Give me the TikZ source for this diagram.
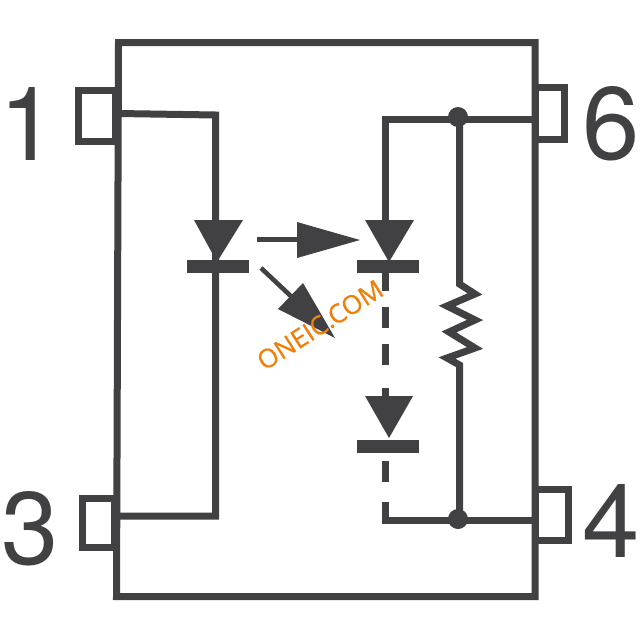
\documentclass[tikz,border=0pt]{standalone}
\usepackage{fontspec}
\setmainfont{TeX Gyre Heros}
\newfontfamily\wmfont[FakeBold=0.6]{Open Sans}
\definecolor{ink}{HTML}{414042}
\definecolor{wm}{HTML}{F07F09}
\tikzset{x=1pt,y=-1pt,
 wire/.style={draw=ink,line width=7pt,line join=miter},
 pinbox/.style={draw=ink,line width=7pt,fill=white},
 tri/.style={fill=ink,draw=none},
 bar/.style={draw=ink,line width=12.6pt},
 ray/.style={draw=ink,line width=4.6pt},
 head/.style={fill=ink,draw=none},
 pinnum/.style={text=ink,font=\fontsize{103}{103}\selectfont,inner sep=0pt,anchor=center},
 jn/.style={circle,fill=ink,draw=none,minimum size=20pt,inner sep=0pt}}
\begin{document}
\begin{tikzpicture}
\useasboundingbox (0,0) rectangle (640,640);
\fill[white] (0,0) rectangle (640,640);
\draw[pinbox] (78.5,90) rectangle (115,141);
\draw[pinbox] (82.5,498) rectangle (114,547.5);
\draw[pinbox] (535,87.5) rectangle (564.5,139.5);
\draw[pinbox] (535,489.5) rectangle (568.5,540);
\draw[wire] (118.5,42.5) -- (535,42.5) -- (535,596.5) -- (116.5,596.5) -- cycle;
\coordinate (a1) at (118,113.5);
\coordinate (a2) at (215.5,115);
\coordinate (a3) at (215.5,516);
\coordinate (a4) at (117,516);
\draw[wire] (a1) -- (a2) -- (a3) -- (a4);
\node[jn] (j6) at (458,117) {};
\node[jn] (j4) at (458,519) {};
\coordinate (b1) at (535,119);
\coordinate (b2) at (385.5,119);
\coordinate (b3) at (385.5,225);
\draw[wire] (b1) -- (b2) -- (b3);
\coordinate (r0) at (459.5,117);
\coordinate (r1) at (459.5,284);
\coordinate (r2) at (459.5,365);
\coordinate (r3) at (459.5,519);
\draw[wire] (r0) -- (r1) -- (475,294) -- (447,306) -- (475,320) -- (449,332) -- (475,348) -- (447,358) -- (r2) -- (r3);
\draw[wire] (385.5,266) -- (385.5,291);
\draw[wire] (385.5,307) -- (385.5,328);
\draw[wire] (385.5,344) -- (385.5,365);
\draw[wire] (385.5,388) -- (385.5,400);
\draw[wire] (385.5,461) -- (385.5,482);
\draw[wire] (385.5,502) -- (385.5,520.5) -- (535,520.5);
\fill[tri] (194,220) -- (243,220) -- (217,262) -- cycle;
\draw[bar] (187,266.5) -- (249,266.5);
\fill[tri] (365,220) -- (414,220) -- (389,262) -- cycle;
\draw[bar] (357,266.5) -- (419,266.5);
\fill[tri] (365,396) -- (413,396) -- (389,438) -- cycle;
\draw[bar] (357,446.5) -- (419,446.5);
\coordinate (l1) at (257,239.5);
\coordinate (l2) at (300,239.5);
\draw[ray] (l1) -- (l2);
\fill[head] (360,240) -- (297,222) -- (297,258) -- cycle;
\coordinate (m1) at (261,268);
\coordinate (m2) at (295,300);
\draw[ray] (m1) -- (m2);
\fill[head] (335,338) -- (278,309) -- (303,283) -- cycle;
\node[pinnum] (n1) at (28.5,123.5) {1};
\node[pinnum] (n3) at (30,529) {3};
\node[pinnum] (n6) at (611.5,124) {6};
\node[pinnum] (n4) at (611,521) {4};
\node[text=wm,font=\wmfont\fontsize{26}{26}\selectfont,rotate=32.5,inner sep=0pt] (w) at (320,325) {ONEIC.COM};
\end{tikzpicture}
\end{document}
